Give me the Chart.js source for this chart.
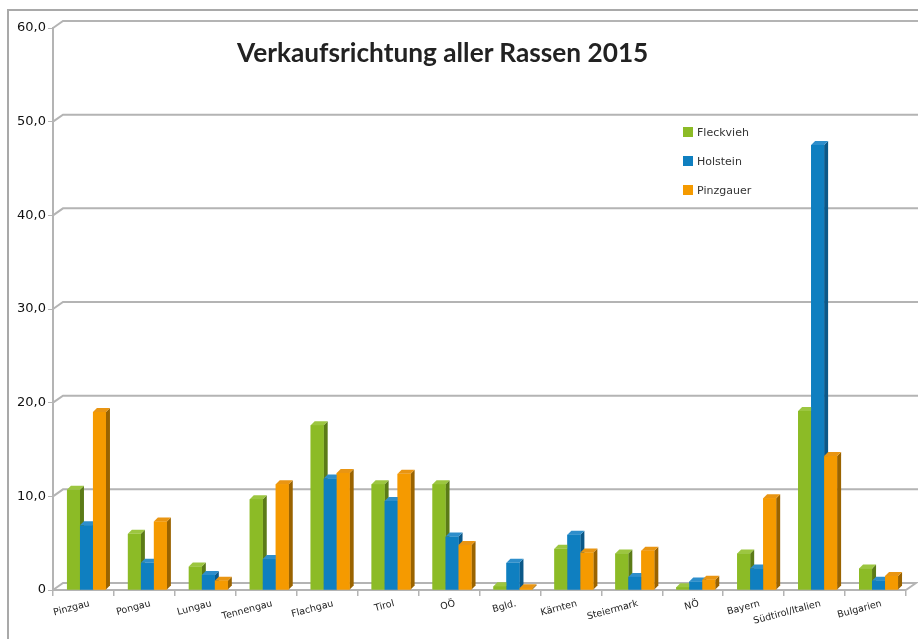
<!DOCTYPE html>
<html>
<head>
<meta charset="utf-8">
<script src="https://cdn.jsdelivr.net/npm/chart.js@4.4.1/dist/chart.umd.min.js"></script>
<style>
  html, body { margin: 0; padding: 0; background: #fff; }
  #wrap { position: relative; width: 918px; height: 639px; overflow: hidden; }
  #frame { position: absolute; left: 7px; top: 9px; width: 940px; height: 660px;
           border-left: 2px solid #a9a9a9; border-top: 2px solid #a9a9a9; }
  canvas { position: absolute; left: 0; top: 0; }
  #title { position: absolute; left: 237px; top: 35px; font: bold 27px Lato, 'DejaVu Sans', sans-serif;
           color: #222; white-space: nowrap; transform-origin: 0 0; }
  #legend { position: absolute; left: 683px; top: 0; font: 11px 'DejaVu Sans', sans-serif; color: #333; }
  .item { position: absolute; left: 0; height: 14px; line-height: 14px; white-space: nowrap; }
  .sw { display: inline-block; width: 10px; height: 10px; margin-right: 4px; vertical-align: -1px; }
</style>
</head>
<body>
<div id="wrap">
  <div id="frame"></div>
  <canvas id="chart" width="918" height="639"></canvas>
  <div id="title">Verkaufsrichtung aller Rassen 2015</div>
  <div id="legend"></div>
</div>
<script>
const categories = ["Pinzgau", "Pongau", "Lungau", "Tennengau", "Flachgau", "Tirol", "OÖ",
  "Bgld.", "Kärnten", "Steiermark", "NÖ", "Bayern", "Südtirol/Italien", "Bulgarien"];
const seriesNames = ["Fleckvieh", "Holstein", "Pinzgauer"];
const fleckvieh = [10.7, 6.0, 2.5, 9.7, 17.6, 11.3, 11.3, 0.4, 4.4, 3.9, 0.3, 3.9, 19.1, 2.3];
const holstein  = [6.9, 2.9, 1.6, 3.3, 11.9, 9.5, 5.7, 2.9, 5.9, 1.4, 0.9, 2.3, 47.5, 1.0];
const pinzgauer = [19.0, 7.3, 1.0, 11.3, 12.5, 12.4, 4.8, 0.2, 4.0, 4.2, 1.1, 9.8, 14.3, 1.5];
const yTicks = [0, 10, 20, 30, 40, 50, 60];

const fronts = ["#8cbb26", "#0f7fc0", "#f59a00"];
const sides  = ["#5b7b17", "#0b5888", "#9a6300"];
const tops   = ["#9cc640", "#2e8ecb", "#e99512"];
const gridColor = "#b4b4b4";
const DX = 4, DY = 4;      // bar depth
const WX = 10, WY = 7;     // back wall offset

// legend
const legend = document.getElementById("legend");
seriesNames.forEach((name, i) => {
  const d = document.createElement("div");
  d.className = "item";
  d.style.top = (126 + i * 29) + "px";
  d.innerHTML = '<span class="sw" style="background:' + fronts[i] + '"></span>' + name;
  legend.appendChild(d);
});

// squeeze title to its width in the picture
const title = document.getElementById("title");
title.style.transform = "scaleX(" + (411 / title.offsetWidth) + ")";

const pseudo3d = {
  id: "pseudo3d",
  beforeDatasetsDraw(chart) {
    const ctx = chart.ctx, ys = chart.scales.y, area = chart.chartArea;
    ctx.save();
    ctx.strokeStyle = gridColor;
    ctx.lineWidth = 2;
    yTicks.forEach(v => {
      const y = ys.getPixelForValue(v);
      ctx.beginPath();
      ctx.moveTo(area.left, y);
      ctx.lineTo(area.left + WX, y - WY);
      if (v === 0) {
        ctx.lineTo(area.right + WX, y - WY);
        ctx.lineTo(area.right, y);
      } else {
        ctx.lineTo(chart.width, y - WY);
      }
      ctx.stroke();
    });
    ctx.restore();
    ctx.save();
    ctx.translate(3, 0);
  },
  afterDatasetsDraw(chart) {
    const ctx = chart.ctx;
    const metas = chart.getSortedVisibleDatasetMetas();
    const poly = pts => {
      ctx.beginPath();
      ctx.moveTo(pts[0][0], pts[0][1]);
      pts.slice(1).forEach(p => ctx.lineTo(p[0], p[1]));
      ctx.closePath();
      ctx.fill();
    };
    for (let i = 0; i < categories.length; i++) {
      metas.forEach((m, d) => {
        const { x, y, base, width } = m.data[i].getProps(["x", "y", "base", "width"], true);
        const l = x - width / 2, r = x + width / 2;
        ctx.fillStyle = sides[d];
        poly([[r, y], [r + DX, y - DY], [r + DX, base - DY], [r, base]]);
        ctx.fillStyle = tops[d];
        poly([[l, y], [l + DX, y - DY], [r + DX, y - DY], [r, y]]);
        ctx.fillStyle = fronts[d];
        ctx.fillRect(l, y, width, base - y);
      });
    }
    ctx.restore();
  }
};

new Chart(document.getElementById("chart"), {
  type: "bar",
  data: {
    labels: categories,
    datasets: [
      { label: seriesNames[0], data: fleckvieh, backgroundColor: fronts[0] },
      { label: seriesNames[1], data: holstein, backgroundColor: fronts[1] },
      { label: seriesNames[2], data: pinzgauer, backgroundColor: fronts[2] },
    ],
  },
  options: {
    responsive: false,
    animation: false,
    categoryPercentage: 0.64,
    barPercentage: 1.0,
    layout: { padding: { top: 28, right: 12, left: 0, bottom: 0 } },
    plugins: { legend: { display: false }, tooltip: { enabled: false } },
    scales: {
      x: {
        grid: { offset: true, drawOnChartArea: false, color: gridColor, tickLength: 6, lineWidth: 1.5 },
        border: { color: gridColor, width: 2 },
        ticks: { minRotation: 15, maxRotation: 15, padding: 2, labelOffset: 6, color: "#222",
                 font: { family: "DejaVu Sans", size: 9.5 } },
        afterFit(s) { s.height = 49; },
      },
      y: {
        min: 0,
        max: 60,
        ticks: {
          stepSize: 10, padding: 2, color: "#111",
          font: { family: "DejaVu Sans", size: 13 },
          callback: v => v === 0 ? "0" : v.toFixed(1).replace(".", ","),
        },
        grid: { drawOnChartArea: false, color: gridColor, tickLength: 5 },
        border: { color: gridColor, width: 2 },
        afterFit(s) { s.width = 53; },
      },
    },
  },
  plugins: [pseudo3d],
});
</script>
</body>
</html>
